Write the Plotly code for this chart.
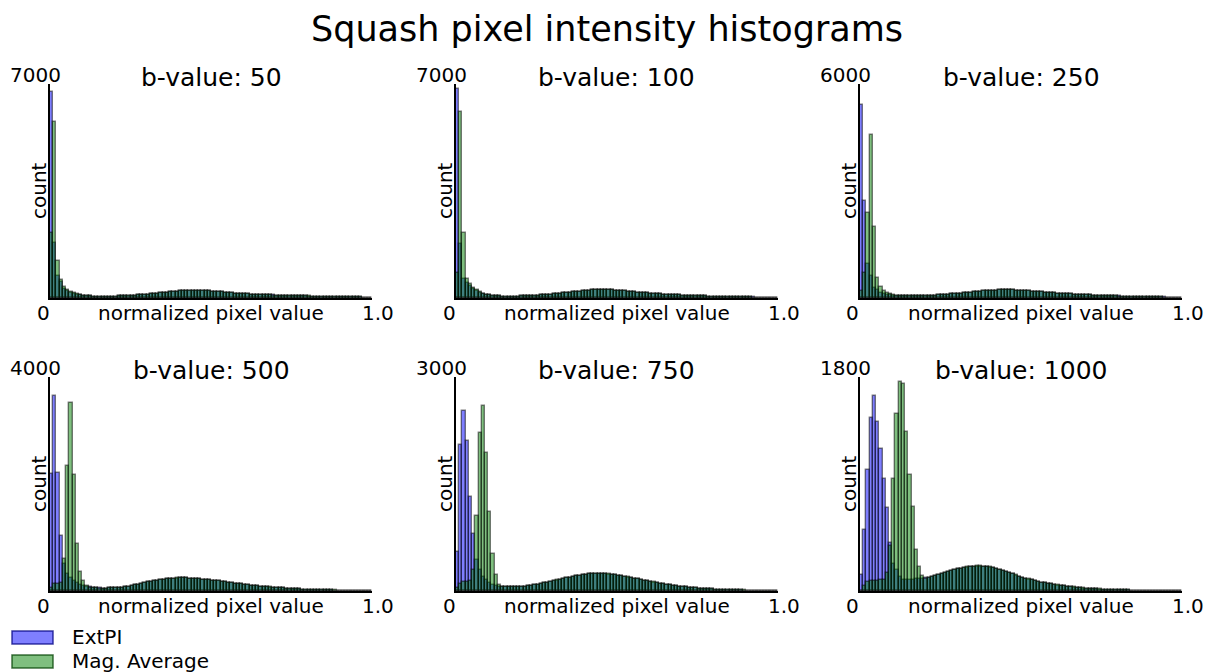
import plotly.graph_objects as go

W, H = 1206, 672
FONT = "DejaVu Sans"

n_bins = 100
bin_width = 1.0 / n_bins
bin_centers = [(i + 0.5) * bin_width for i in range(n_bins)]

b_values = [50, 100, 250, 500, 750, 1000]
y_max = [7000, 7000, 6000, 4000, 3000, 1800]
series_names = ["ExtPI", "Mag. Average"]

extpi_b50 = [6740, 1800, 720, 520, 310, 240, 175, 130, 100, 82,
             68, 57, 50, 45, 42, 40, 40, 41, 43, 46,
             49, 53, 57, 62, 67, 72, 78, 85, 92, 100,
             108, 118, 128, 138, 150, 162, 174, 186, 197, 207,
             216, 226, 229, 236, 235, 240, 234, 233, 224, 220,
             211, 202, 193, 183, 173, 164, 155, 147, 139, 132,
             125, 119, 113, 108, 103, 98, 94, 90, 86, 82,
             78, 75, 72, 69, 66, 63, 60, 57, 54, 51,
             49, 47, 45, 43, 41, 39, 37, 35, 33, 31,
             29, 27, 25, 23, 21, 19, 17, 15, 13, 11]
mag_b50 = [2140, 5770, 1215, 600, 350, 265, 200, 155, 120, 95,
           76, 62, 53, 47, 43, 41, 40, 41, 42, 45,
           48, 52, 56, 61, 66, 72, 77, 84, 91, 99,
           107, 117, 126, 137, 149, 160, 173, 184, 196, 206,
           214, 223, 231, 233, 238, 236, 237, 230, 227, 217,
           212, 200, 194, 182, 174, 162, 156, 146, 140, 131,
           126, 118, 114, 107, 104, 97, 95, 89, 87, 81,
           79, 74, 73, 68, 67, 62, 61, 56, 55, 50,
           50, 46, 46, 42, 42, 38, 38, 34, 34, 30,
           30, 26, 26, 22, 22, 18, 18, 14, 14, 10]

extpi_b100 = [6835, 1770, 620, 490, 400, 300, 230, 175, 130, 100,
              82, 68, 58, 50, 45, 42, 41, 42, 44, 47,
              51, 55, 60, 65, 71, 77, 84, 92, 100, 109,
              118, 128, 139, 150, 162, 174, 186, 198, 210, 221,
              231, 240, 247, 253, 257, 259, 258, 255, 250, 244,
              236, 228, 219, 209, 199, 189, 179, 169, 160, 151,
              142, 134, 126, 119, 112, 105, 99, 93, 87, 82,
              77, 72, 68, 64, 60, 56, 53, 50, 47, 44,
              41, 38, 36, 34, 32, 30, 28, 26, 24, 22,
              20, 18, 17, 15, 14, 12, 11, 10, 9, 8]
mag_b100 = [830, 6080, 2140, 620, 470, 330, 260, 200, 145, 110,
            86, 70, 60, 52, 46, 43, 42, 42, 44, 46,
            50, 55, 59, 65, 70, 77, 83, 92, 99, 109,
            117, 128, 138, 151, 161, 175, 185, 199, 209, 222,
            230, 241, 246, 254, 256, 260, 257, 256, 249, 245,
            235, 229, 218, 210, 198, 190, 178, 170, 159, 152,
            141, 135, 125, 120, 111, 106, 98, 94, 86, 83,
            76, 73, 67, 65, 59, 57, 52, 51, 46, 45,
            40, 39, 35, 35, 31, 31, 27, 27, 23, 23,
            19, 19, 16, 16, 13, 13, 10, 11, 8, 9]

extpi_b250 = [5410, 2720, 960, 610, 290, 220, 150, 115, 92, 78,
              66, 58, 52, 48, 46, 45, 46, 48, 50, 53,
              56, 60, 64, 69, 74, 80, 86, 93, 100, 108,
              116, 125, 134, 143, 152, 161, 170, 178, 186, 193,
              199, 204, 208, 211, 213, 214, 213, 211, 208, 204,
              199, 193, 187, 180, 173, 166, 159, 152, 145, 138,
              131, 125, 119, 113, 107, 101, 96, 91, 86, 81,
              77, 73, 69, 65, 61, 58, 55, 52, 49, 46,
              43, 40, 38, 36, 34, 32, 30, 28, 26, 24,
              22, 20, 18, 16, 15, 13, 12, 10, 9, 8]
mag_b250 = [200, 700, 2370, 4570, 1980, 570, 310, 190, 130, 100,
            80, 66, 57, 51, 47, 45, 46, 47, 49, 52,
            55, 59, 63, 68, 73, 79, 85, 92, 99, 107,
            115, 124, 133, 142, 151, 160, 169, 177, 185, 192,
            198, 205, 206, 212, 211, 215, 211, 212, 206, 205,
            198, 192, 186, 179, 172, 165, 158, 151, 144, 137,
            130, 124, 118, 112, 106, 100, 95, 90, 85, 80,
            76, 72, 68, 64, 60, 57, 54, 51, 48, 45,
            42, 39, 37, 35, 33, 31, 29, 27, 25, 23,
            21, 19, 17, 16, 14, 13, 11, 10, 9, 7]

extpi_b500 = [2180, 3640, 2210, 1020, 500, 310, 250, 195, 150, 115,
              92, 78, 66, 58, 52, 48, 46, 46, 47, 49,
              50, 54, 60, 68, 78, 90, 103, 117, 131, 145,
              159, 172, 184, 195, 205, 213, 220, 226, 230, 233,
              235, 235, 234, 232, 229, 225, 220, 214, 208, 201,
              194, 186, 178, 170, 162, 154, 146, 138, 130, 122,
              115, 108, 101, 94, 88, 82, 76, 70, 65, 60,
              55, 51, 47, 43, 39, 36, 33, 30, 27, 25,
              22, 20, 18, 16, 14, 13, 11, 10, 9, 8,
              7, 6, 5, 5, 4, 4, 3, 3, 2, 2]
mag_b500 = [60, 130, 140, 150, 590, 2330, 3515, 2160, 885, 355,
            180, 90, 62, 52, 47, 45, 45, 46, 48, 50,
            52, 56, 62, 70, 80, 92, 105, 119, 133, 147,
            160, 173, 185, 196, 206, 214, 221, 227, 231, 234,
            236, 236, 235, 233, 230, 226, 221, 215, 209, 202,
            195, 187, 179, 171, 163, 155, 147, 139, 131, 123,
            116, 109, 102, 95, 89, 83, 77, 71, 66, 61,
            56, 52, 48, 44, 40, 37, 34, 31, 28, 26,
            23, 21, 19, 17, 15, 14, 12, 11, 10, 9,
            8, 7, 6, 6, 5, 4, 4, 3, 3, 2]

extpi_b750 = [546, 2040, 2530, 2100, 1316, 800, 440, 290, 196, 150,
              110, 85, 70, 60, 55, 53, 52, 52, 53, 55,
              58, 62, 67, 73, 80, 88, 97, 107, 117, 127,
              137, 147, 157, 167, 177, 187, 197, 207, 216, 224,
              230, 235, 238, 240, 240, 238, 235, 231, 226, 220,
              212, 205, 197, 189, 181, 172, 163, 154, 145, 136,
              127, 119, 111, 103, 95, 88, 81, 74, 68, 62,
              56, 51, 46, 42, 38, 34, 31, 28, 25, 22,
              20, 18, 16, 14, 12, 11, 10, 9, 8, 7,
              6, 5, 5, 4, 4, 3, 3, 2, 2, 2]
mag_b750 = [40, 100, 120, 130, 140, 300, 1045, 2210, 2600, 1930,
            1106, 514, 220, 80, 58, 54, 53, 53, 54, 56,
            59, 63, 68, 74, 81, 89, 98, 108, 118, 128,
            138, 148, 158, 168, 178, 188, 198, 208, 217, 225,
            231, 236, 239, 241, 241, 239, 236, 232, 227, 221,
            213, 206, 198, 190, 182, 173, 164, 155, 146, 137,
            128, 120, 112, 104, 96, 89, 82, 75, 69, 63,
            57, 52, 47, 43, 39, 35, 32, 29, 26, 23,
            21, 19, 17, 15, 13, 12, 11, 10, 9, 8,
            7, 6, 5, 5, 4, 4, 3, 3, 2, 2]

extpi_b1000 = [132, 510, 1020, 1458, 1643, 1421, 1197, 945, 700, 400,
               230, 174, 118, 95, 92, 92, 94, 97, 100, 103,
               106, 112, 120, 130, 138, 145, 152, 162, 170, 176,
               182, 188, 193, 197, 201, 204, 206, 206, 205, 203,
               196, 190, 183, 175, 166, 157, 148, 139, 130, 121,
               112, 104, 96, 89, 82, 76, 70, 65, 60, 55,
               50, 46, 42, 38, 35, 32, 29, 26, 23, 21,
               19, 17, 15, 13, 12, 11, 10, 9, 8, 7,
               6, 6, 5, 5, 4, 4, 3, 3, 3, 2,
               2, 2, 2, 1, 1, 1, 1, 1, 0, 0]
mag_b1000 = [0, 45, 75, 84, 86, 88, 90, 92, 150, 380,
             945, 1486, 1758, 1744, 1337, 973, 706, 342, 202, 123,
             104, 110, 118, 128, 137, 146, 154, 163, 171, 178,
             184, 189, 194, 198, 202, 205, 207, 207, 206, 204,
             198, 191, 184, 176, 167, 158, 149, 140, 131, 122,
             113, 105, 97, 90, 83, 77, 71, 66, 61, 56,
             51, 47, 43, 39, 36, 33, 30, 27, 24, 22,
             20, 18, 16, 14, 13, 11, 10, 9, 8, 7,
             7, 6, 5, 5, 4, 4, 4, 3, 3, 2,
             2, 2, 2, 1, 1, 1, 1, 1, 1, 0]

extpi = [extpi_b50, extpi_b100, extpi_b250, extpi_b500, extpi_b750, extpi_b1000]
mag = [mag_b50, mag_b100, mag_b250, mag_b500, mag_b750, mag_b1000]

fill_colors = ["rgba(0,0,255,0.5)", "rgba(0,128,0,0.5)"]
edge_color = "rgba(0,0,0,0.5)"

# layout geometry (pixels)
col_left = [50, 456, 860]
row_top = [84, 377]
ax_w, ax_h = 322, 214


def px(x):
    return x / W


def py(y):
    return 1 - y / H


fig = go.Figure()
layout = dict(
    width=W, height=H,
    margin=dict(l=0, r=0, t=0, b=0),
    paper_bgcolor="white", plot_bgcolor="white",
    barmode="overlay", bargap=0,
    showlegend=False,
    font=dict(family=FONT, color="black", size=20),
)
annotations = []
shapes = []


def ann(text, x, y, size=20, xanchor="center", yanchor="middle", angle=0):
    annotations.append(dict(text=text, x=px(x), y=py(y), xref="paper", yref="paper",
                            showarrow=False, xanchor=xanchor, yanchor=yanchor,
                            textangle=angle, font=dict(family=FONT, size=size, color="black")))


for k in range(6):
    r, c = divmod(k, 3)
    left, top = col_left[c], row_top[r]
    right, bottom = left + ax_w, top + ax_h
    xa = "x" if k == 0 else f"x{k+1}"
    ya = "y" if k == 0 else f"y{k+1}"
    for vals, col, name in zip([extpi[k], mag[k]], fill_colors, series_names):
        fig.add_trace(go.Bar(
            x=bin_centers, y=vals, width=bin_width, name=name,
            marker=dict(color=col, line=dict(color=edge_color, width=1.4)),
            xaxis=xa, yaxis=ya,
        ))
    axis_common = dict(showline=True, linecolor="black", linewidth=2,
                       showgrid=False, zeroline=False, showticklabels=False,
                       ticks="", fixedrange=True)
    layout["xaxis" if k == 0 else f"xaxis{k+1}"] = dict(
        domain=[px(left), px(right)], anchor=ya, range=[0, 1], **axis_common)
    layout["yaxis" if k == 0 else f"yaxis{k+1}"] = dict(
        domain=[py(bottom), py(top)], anchor=xa, range=[0, y_max[k]], **axis_common)

    ann(f"b-value: {b_values[k]}", (left + right) / 2, top - 7, size=25)
    ann(str(y_max[k]), left + 13, top - 9, xanchor="right")
    ann("0", left - 7, bottom + 15)
    ann("1.0", right + 6, bottom + 15)
    ann("normalized pixel value", (left + right) / 2, bottom + 15)
    ann("count", left - 11, (top + bottom) / 2, angle=-90)

# main title
ann("Squash pixel intensity histograms", 607, 29, size=35)

# legend (manual, matplotlib style)
legend_rows = [(631, 644), (655, 668)]
legend_edges = ["rgba(0,0,128,0.75)", "rgba(0,64,0,0.75)"]
for (y0, y1), col, ecol, name in zip(legend_rows, fill_colors, legend_edges, series_names):
    shapes.append(dict(type="rect", xref="paper", yref="paper",
                       x0=px(12), x1=px(53), y0=py(y1), y1=py(y0),
                       fillcolor=col, line=dict(color=ecol, width=1.5)))
    ann(name, 70, (y0 + y1) / 2 - 0.5, xanchor="left")

layout["annotations"] = annotations
layout["shapes"] = shapes
fig.update_layout(**layout)
fig.write_html("out.html")
